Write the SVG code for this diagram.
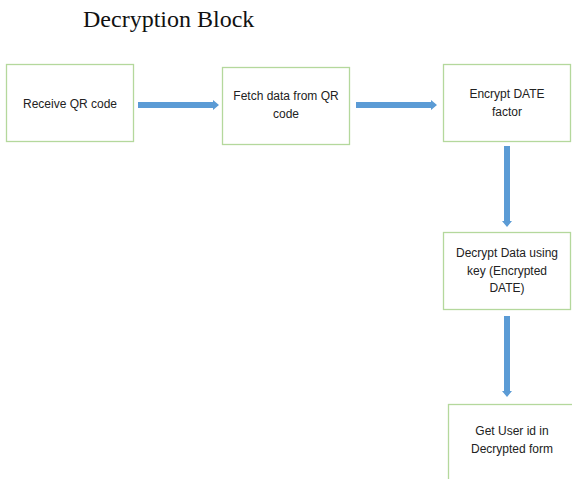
<svg xmlns="http://www.w3.org/2000/svg" width="572" height="479" viewBox="0 0 572 479">
<style>
.box{fill:#ffffff;stroke:#b4d89c;stroke-width:1.3}
.t{font-family:"Liberation Sans",Arial,sans-serif;font-size:12px;fill:#222;text-anchor:middle}
.title{font-family:"Liberation Serif","Times New Roman",serif;font-size:24px;fill:#111}
.arr{fill:#5b9bd5}
</style>
<rect width="572" height="479" fill="#ffffff"/>
<text class="title" x="83" y="27">Decryption Block</text>
<g id="connectors">
<polygon class="arr" points="138,102 213,102 213,100 219,105 213,110 213,108 138,108"/>
<polygon class="arr" points="356,102 431,102 431,100 437,105 431,110 431,108 356,108"/>
<polygon class="arr" points="504,146 510,146 510,221 512,221 507,227 502,221 504,221"/>
<polygon class="arr" points="504,316 510,316 510,391 512,391 507,397 502,391 504,391"/>
</g>
<g id="n1"><rect class="box" x="6.5" y="64.5" width="127" height="77"/><text class="t" x="70" y="108">Receive QR code</text></g>
<g id="n2"><rect class="box" x="222.5" y="67.5" width="127" height="77"/><text class="t" x="286" y="100">Fetch data from QR</text><text class="t" x="286" y="118">code</text></g>
<g id="n3"><rect class="box" x="443.5" y="64.5" width="127" height="77"/><text class="t" x="507" y="98">Encrypt DATE</text><text class="t" x="507" y="116">factor</text></g>
<g id="n4"><rect class="box" x="443.5" y="232.5" width="127" height="77"/><text class="t" x="507" y="257">Decrypt Data using</text><text class="t" x="507" y="275">key (Encrypted</text><text class="t" x="507" y="292">DATE)</text></g>
<g id="n5"><rect class="box" x="448.5" y="404.5" width="127" height="77"/><text class="t" x="512" y="435">Get User id in</text><text class="t" x="512" y="453">Decrypted form</text></g>
</svg>
